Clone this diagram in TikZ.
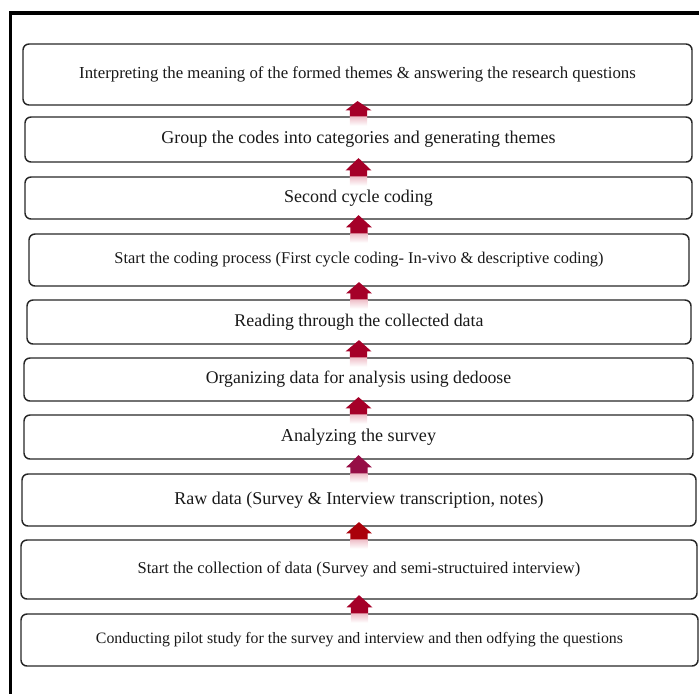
\documentclass[tikz,border=0pt]{standalone}
\usepackage{fontspec}
\setmainfont{Liberation Serif}

\definecolor{arrowred}{RGB}{165,0,40}
\definecolor{arrowplum}{RGB}{150,14,70}
\definecolor{arrowdeep}{RGB}{170,0,10}
\definecolor{glowpink}{RGB}{238,188,198}

\tikzset{
  stage/.style={draw=black!85, line width=1.1pt, rounded corners=4.5pt, inner sep=0pt, text=black!90},
  glow/.style={top color=glowpink, bottom color=white}
}
\newcommand{\fs}[1]{\fontsize{#1}{#1}\selectfont}

\begin{document}
\begin{tikzpicture}[x=0.75pt, y=-0.75pt]

\def\u{0.75pt}

% Page and clipping
\useasboundingbox (0,0) rectangle (699,693);
\clip (0,0) rectangle (699,693);

% Outer frame (only top and left edges are seen)
\draw[line width=2.3pt] (10.5,720) -- (10.5,13) -- (720,13);

% Stages, top to bottom
\node[stage, minimum width=669*\u, minimum height=61*\u] (b1) at (357.5,74.5)
  {\fs{12.6}Interpreting the meaning of the formed themes \& answering the research questions};
\node[stage, minimum width=667*\u, minimum height=45*\u] (b2) at (358.5,139.5)
  {\fs{13.5}Group the codes into categories and generating themes};
\node[stage, minimum width=667*\u, minimum height=42*\u] (b3) at (358.5,198)
  {\fs{13.5}Second cycle coding};
\node[stage, minimum width=660*\u, minimum height=52*\u] (b4) at (359,260)
  {\fs{12.3}Start the coding process (First cycle coding- In-vivo \& descriptive coding)};
\node[stage, minimum width=664*\u, minimum height=44*\u] (b5) at (359,322)
  {\fs{13.4}Reading through the collected data};
\node[stage, minimum width=669*\u, minimum height=43*\u] (b6) at (358.5,379.5)
  {\fs{13.3}Organizing data for analysis using dedoose};
\node[stage, minimum width=669*\u, minimum height=44*\u] (b7) at (358.5,437)
  {\fs{13.6}Analyzing the survey};
\node[stage, minimum width=674*\u, minimum height=52*\u] (b8) at (359,500)
  {\fs{13.5}Raw data (Survey \& Interview transcription, notes)};
\node[stage, minimum width=676*\u, minimum height=59*\u] (b9) at (359,569.5)
  {\fs{12.4}Start the collection of data (Survey and semi-structuired interview)};
\node[stage, minimum width=677*\u, minimum height=52*\u] (b10) at (359.5,640)
  {\fs{11.9}Conducting pilot study for the survey and interview and then odfying the questions};

% Block arrows pointing up, with a pale glow below each
\foreach \lo/\hi/\col in {b2/b1/arrowred, b3/b2/arrowred, b4/b3/arrowred, b5/b4/arrowred,
    b6/b5/arrowred, b7/b6/arrowred, b8/b7/arrowplum, b9/b8/arrowdeep, b10/b9/arrowred}{
  \shade[glow] ([xshift=-6.4pt]\lo.north) rectangle ([xshift=6.4pt,yshift=-7pt]\lo.north);
  \fill[\col] ([xshift=-6.4pt]\lo.north) -- ([xshift=-6.4pt,yshift=4.5pt]\lo.north)
    -- ([xshift=-9.6pt,yshift=4.5pt]\lo.north) -- ([yshift=3.5pt]\hi.south)
    -- ([xshift=9.6pt,yshift=4.5pt]\lo.north) -- ([xshift=6.4pt,yshift=4.5pt]\lo.north)
    -- ([xshift=6.4pt]\lo.north) -- cycle;
}

\end{tikzpicture}
\end{document}
